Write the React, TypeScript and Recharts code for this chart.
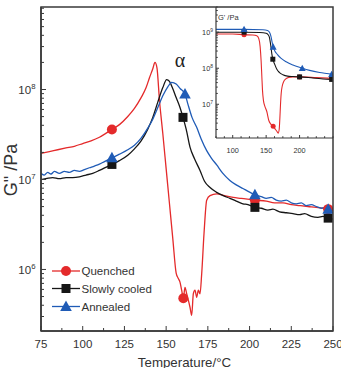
import React from "react";
import { LineChart, Line, XAxis, YAxis } from "recharts";

// ---- main panel: G'' (Pa) vs temperature (°C) ----
const quenchedT = [75, 80, 85, 90, 95, 100, 105, 110, 117.5, 122, 127, 131, 135, 138, 140, 142, 143.3, 144.5, 146, 148, 150, 152, 154, 156, 157.3, 158.3, 159.3, 160.3, 161.3, 162.3, 163.3, 164.3, 165.3, 166.3, 167.3, 168.3, 169.3, 170.3, 171.3, 172.7, 174.3, 176.3, 180.3, 185, 190.2, 195, 203.2, 210, 215, 220, 225.1, 230, 235, 240, 247.1, 250];
const quenchedG = [1.95e7, 2.04e7, 2.14e7, 2.24e7, 2.34e7, 2.51e7, 2.69e7, 2.95e7, 3.6e7, 4.07e7, 5.01e7, 6.17e7, 8.13e7, 1.05e8, 1.35e8, 1.7e8, 2.0e8, 1.74e8, 7.59e7, 3.24e7, 1.32e7, 5.37e6, 2.19e6, 9.12e5, 7.94e5, 7.24e5, 5.89e5, 4.79e5, 6.31e5, 5.37e5, 4.57e5, 3.8e5, 3.09e5, 5.37e5, 5.89e5, 4.9e5, 5.89e5, 5.37e5, 8.91e5, 2.51e6, 5.89e6, 6.61e6, 6.92e6, 6.61e6, 6.31e6, 6.17e6, 5.89e6, 5.75e6, 5.5e6, 5.5e6, 5.25e6, 5.13e6, 5.01e6, 4.9e6, 4.68e6, 4.57e6];
const quenchedMarks = [117.5, 160.3, 203.2, 247.1];

const slowT = [75, 78, 82, 86, 90, 94, 98, 102, 106, 110, 117.5, 122, 127, 131, 135, 139, 142, 145, 148, 150.3, 152, 154, 156, 158.3, 160.1, 162, 164.3, 167, 170.3, 173, 176.3, 180, 184.2, 188.2, 192, 196, 199, 203.2, 207, 211, 214, 218, 222, 226, 230, 233, 237, 241, 244, 247.1, 250];
const slowG = [1.0e7, 1.02e7, 1.05e7, 1.02e7, 1.05e7, 1.05e7, 1.07e7, 1.12e7, 1.17e7, 1.26e7, 1.47e7, 1.62e7, 1.86e7, 2.19e7, 2.69e7, 3.63e7, 4.9e7, 7.24e7, 1.05e8, 1.29e8, 1.23e8, 1.02e8, 8.13e7, 6.31e7, 4.9e7, 3.63e7, 2.29e7, 1.7e7, 1.26e7, 9.55e6, 8.13e6, 7.24e6, 6.61e6, 6.17e6, 5.75e6, 5.37e6, 5.25e6, 4.9e6, 4.79e6, 4.57e6, 4.68e6, 4.37e6, 4.27e6, 4.17e6, 4.07e6, 4.17e6, 3.89e6, 3.8e6, 3.89e6, 3.72e6, 3.63e6];
const slowMarks = [117.5, 160.1, 203.2, 247.1];

const annealedT = [75, 77, 79, 81, 83, 86, 89, 92, 95, 98, 101, 104, 107, 110, 113, 117.5, 122, 127, 131, 135, 139, 142, 145, 148, 151, 153.3, 156, 158.5, 161.3, 163, 165.5, 168.3, 171, 174.3, 177, 180.3, 184, 188.2, 192, 196, 200, 203.2, 207, 210, 213, 216, 219, 222, 225, 228, 231, 234, 237, 240, 243, 245, 247.1, 250];
const annealedG = [1.17e7, 1.12e7, 1.2e7, 1.15e7, 1.23e7, 1.17e7, 1.23e7, 1.2e7, 1.26e7, 1.23e7, 1.29e7, 1.35e7, 1.41e7, 1.48e7, 1.58e7, 1.74e7, 1.91e7, 2.14e7, 2.4e7, 2.88e7, 3.72e7, 4.68e7, 6.31e7, 8.51e7, 1.07e8, 1.2e8, 1.15e8, 1.02e8, 8.91e7, 6.92e7, 4.9e7, 3.8e7, 2.82e7, 2.09e7, 1.74e7, 1.45e7, 1.17e7, 9.77e6, 8.71e6, 7.94e6, 7.24e6, 6.76e6, 6.46e6, 6.17e6, 6.31e6, 5.89e6, 5.75e6, 5.89e6, 5.5e6, 5.37e6, 5.5e6, 5.13e6, 5.25e6, 5.01e6, 4.79e6, 4.9e6, 4.68e6, 4.57e6];
const annealedMarks = [117.5, 161.3, 203.2, 247.1];

// ---- inset: G' (Pa) vs temperature ----
const quenchedInsetT = [75, 100, 117, 130, 136, 139, 141, 142.5, 143.5, 144.5, 146, 148, 151, 154, 157, 160.5, 164, 166, 168, 169.5, 170.5, 171.5, 172.5, 174, 176, 179, 183, 190, 200, 225, 248, 250];
const quenchedInsetG = [8.91e8, 8.91e8, 8.51e8, 8.32e8, 7.94e8, 6.61e8, 3.98e8, 1.58e8, 6.31e7, 2.51e7, 1.26e7, 8.91e6, 6.31e6, 3.55e6, 2.82e6, 2.45e6, 2.0e6, 1.78e6, 1.58e6, 2.0e6, 3.98e6, 1.0e7, 2.0e7, 3.16e7, 4.17e7, 5.01e7, 5.5e7, 5.75e7, 5.75e7, 5.5e7, 5.25e7, 5.25e7];
const quenchedInsetMarks = [117, 160.5, 200, 248];

const slowInsetT = [75, 117, 140, 150, 153, 155, 157, 158.5, 160, 163, 166, 170, 175, 182, 190, 200, 220, 248, 250];
const slowInsetG = [1.0e9, 1.0e9, 9.77e8, 9.33e8, 8.51e8, 7.08e8, 4.17e8, 2.51e8, 1.78e8, 1.26e8, 9.33e7, 7.59e7, 6.61e7, 6.03e7, 5.89e7, 5.75e7, 5.37e7, 4.9e7, 4.9e7];
const slowInsetMarks = [117, 160, 200, 248];

const annealedInsetT = [75, 117, 145, 152, 155, 157, 159, 160.5, 163, 167, 172, 180, 190, 204, 215, 230, 248, 250];
const annealedInsetG = [1.2e9, 1.2e9, 1.17e9, 1.12e9, 1.0e9, 7.94e8, 5.25e8, 3.89e8, 3.02e8, 2.4e8, 1.91e8, 1.51e8, 1.23e8, 1.0e8, 8.71e7, 7.59e7, 6.76e7, 6.61e7];
const annealedInsetMarks = [117, 160.5, 204, 248];

// ---- axes ----
const xTicks = [75, 87.5, 100, 112.5, 125, 137.5, 150, 162.5, 175, 187.5, 200, 212.5, 225, 237.5, 250];
const xLabels = [75, 100, 125, 150, 175, 200, 225, 250];
const insetXLabels = [100, 150, 200];
const yDecades = [1e6, 1e7, 1e8];
const insetYDecades = [1e7, 1e8, 1e9];
const mainYDomain = [2.07e5, 8.26e8];
const insetYDomain = [1.16e6, 5.0e9];

const RED = "#e42a2b";
const BLACK = "#161616";
const BLUE = "#1f5bb6";
const AXIS = "#3a3a3a";
const TXT = "#333";
const FONT = "'Liberation Sans', Arial, sans-serif";

function logTicks(lo: number, hi: number) {
  const out: number[] = [];
  for (let e = Math.floor(Math.log10(lo)); e <= Math.ceil(Math.log10(hi)); e++) {
    for (let m = 1; m < 10; m++) {
      const v = Number((m * Math.pow(10, e)).toPrecision(2));
      if (v >= lo && v <= hi) out.push(v);
    }
  }
  return out;
}

const rows = (t: number[], g: number[]) => t.map((x, i) => ({ t: x, g: g[i] }));

const series = [
  { name: "Quenched", color: RED, shape: "circle", main: rows(quenchedT, quenchedG), marks: quenchedMarks, inset: rows(quenchedInsetT, quenchedInsetG), insetMarks: quenchedInsetMarks },
  { name: "Slowly cooled", color: BLACK, shape: "square", main: rows(slowT, slowG), marks: slowMarks, inset: rows(slowInsetT, slowInsetG), insetMarks: slowInsetMarks },
  { name: "Annealed", color: BLUE, shape: "triangle", main: rows(annealedT, annealedG), marks: annealedMarks, inset: rows(annealedInsetT, annealedInsetG), insetMarks: annealedInsetMarks },
];

function Marker({ shape, cx, cy, s, color }: any) {
  if (shape === "circle") return <circle cx={cx} cy={cy} r={s / 2} fill={color} />;
  if (shape === "square") return <rect x={cx - s / 2} y={cy - s / 2} width={s} height={s} fill={color} />;
  return (
    <polygon
      points={`${cx},${cy - s * 0.6} ${cx - s * 0.58},${cy + s * 0.45} ${cx + s * 0.58},${cy + s * 0.45}`}
      fill={color}
    />
  );
}

function XTick({ x, y, payload, labels, fs, dy, len }: any) {
  const major = labels.includes(payload.value);
  return (
    <g>
      <line x1={x} x2={x} y1={y} y2={y - (major ? len : len * 0.6)} stroke={AXIS} strokeWidth={1} />
      {major && (
        <text x={x} y={y + dy} textAnchor="middle" fontSize={fs} fill={TXT} fontFamily={FONT}>
          {payload.value}
        </text>
      )}
    </g>
  );
}

function YTick({ x, y, payload, majors, fs, gap, len }: any) {
  const v = payload.value;
  const major = majors.includes(v);
  const exp = Math.round(Math.log10(v));
  return (
    <g>
      <line x1={x} x2={x + (major ? len : len * 0.6)} y1={y} y2={y} stroke={AXIS} strokeWidth={1} />
      {major && (
        <text x={x - gap} y={y + fs * 0.4} textAnchor="end" fontSize={fs} fill={TXT} fontFamily={FONT}>
          10
          <tspan dy={-fs * 0.45} fontSize={fs * 0.68}>
            {exp}
          </tspan>
        </text>
      )}
    </g>
  );
}

export default function App() {
  const mainYTicks = logTicks(mainYDomain[0], mainYDomain[1]);
  const insetYTicks = logTicks(insetYDomain[0], insetYDomain[1]);

  return (
    <div style={{ position: "absolute", left: 0, top: 0, width: 341, height: 368, background: "#fff", fontFamily: FONT }}>
      {/* main chart */}
      <div style={{ position: "absolute", left: 0, top: 0 }}>
        <LineChart width={341} height={368} margin={{ top: 7, right: 8, bottom: 0, left: 0 }}>
          <XAxis
            type="number"
            dataKey="t"
            domain={[75, 250]}
            allowDataOverflow
            ticks={xTicks}
            interval={0}
            height={37}
            tickSize={0}
            tickMargin={0}
            tickLine={false}
            axisLine={{ stroke: AXIS, strokeWidth: 1.5 }}
            tick={<XTick labels={xLabels} fs={11.5} dy={17.3} len={5} />}
          />
          <YAxis
            type="number"
            scale="log"
            domain={mainYDomain}
            allowDataOverflow
            ticks={mainYTicks}
            interval={0}
            width={41}
            tickSize={0}
            tickMargin={0}
            tickLine={false}
            axisLine={{ stroke: AXIS, strokeWidth: 1.5 }}
            tick={<YTick majors={yDecades} fs={11.5} gap={5.5} len={5} />}
          />
          {series.map((s) => (
            <Line
              key={s.name}
              data={s.main}
              dataKey="g"
              type="monotone"
              stroke={s.color}
              strokeWidth={1.3}
              isAnimationActive={false}
              dot={(p: any) =>
                s.marks.includes(p.payload.t) ? (
                  <Marker key={p.index} shape={s.shape} cx={p.cx} cy={p.cy} s={s.shape === "circle" ? 10 : s.shape === "square" ? 9 : 10} color={s.color} />
                ) : (
                  <g key={p.index} />
                )
              }
              activeDot={false}
            />
          ))}
        </LineChart>
      </div>

      {/* inset background */}
      <div style={{ position: "absolute", left: 216, top: 7, width: 117, height: 131, background: "#fff" }} />

      {/* inset chart */}
      <div style={{ position: "absolute", left: 190, top: 0 }}>
        <LineChart width={151} height={155} margin={{ top: 7, right: 8, bottom: 0, left: 0 }}>
          <XAxis
            type="number"
            dataKey="t"
            domain={[75, 250]}
            allowDataOverflow
            ticks={xTicks}
            interval={0}
            height={17}
            tickSize={0}
            tickMargin={0}
            tickLine={false}
            axisLine={{ stroke: AXIS, strokeWidth: 1.2 }}
            tick={<XTick labels={insetXLabels} fs={7.3} dy={14.5} len={3} />}
          />
          <YAxis
            type="number"
            scale="log"
            domain={insetYDomain}
            allowDataOverflow
            ticks={insetYTicks}
            interval={0}
            width={26}
            tickSize={0}
            tickMargin={0}
            tickLine={false}
            axisLine={{ stroke: AXIS, strokeWidth: 1.2 }}
            tick={<YTick majors={insetYDecades} fs={7.3} gap={3} len={3} />}
          />
          {series.map((s) => (
            <Line
              key={s.name}
              data={s.inset}
              dataKey="g"
              type="monotone"
              stroke={s.color}
              strokeWidth={1.1}
              isAnimationActive={false}
              dot={(p: any) =>
                s.insetMarks.includes(p.payload.t) ? (
                  <Marker key={p.index} shape={s.shape} cx={p.cx} cy={p.cy} s={s.shape === "triangle" ? 6 : 5} color={s.color} />
                ) : (
                  <g key={p.index} />
                )
              }
              activeDot={false}
            />
          ))}
        </LineChart>
      </div>

      {/* frame, titles, legend */}
      <svg width={341} height={368} style={{ position: "absolute", left: 0, top: 0, pointerEvents: "none" }}>
        <rect x={41} y={7} width={292} height={324} fill="none" stroke={AXIS} strokeWidth={1.5} />
        <text x={218} y={19.5} fontSize={7.5} fill={TXT} fontFamily={FONT}>
          G' /Pa
        </text>
        <text x={180} y={67} fontSize={20} textAnchor="middle" fill="#222" fontFamily="'Liberation Serif', serif">
          α
        </text>
        <text x={184.5} y={366.5} fontSize={13.3} textAnchor="middle" fill={TXT} fontFamily={FONT}>
          Temperature/°C
        </text>
        <text
          transform="translate(16.5,170) rotate(-90)"
          fontSize={18}
          textAnchor="middle"
          fill={TXT}
          fontFamily={FONT}
        >
          G" /Pa
        </text>
        {series.map((s, i) => {
          const y = [271, 288.5, 306.5][i];
          return (
            <g key={s.name}>
              <line x1={52} x2={80} y1={y} y2={y} stroke={s.color} strokeWidth={1.3} />
              <Marker shape={s.shape} cx={66} cy={y} s={s.shape === "square" ? 9 : 10} color={s.color} />
              <text x={81.5} y={y + 4.2} fontSize={11.5} fill={TXT} fontFamily={FONT}>
                {s.name}
              </text>
            </g>
          );
        })}
      </svg>
    </div>
  );
}
